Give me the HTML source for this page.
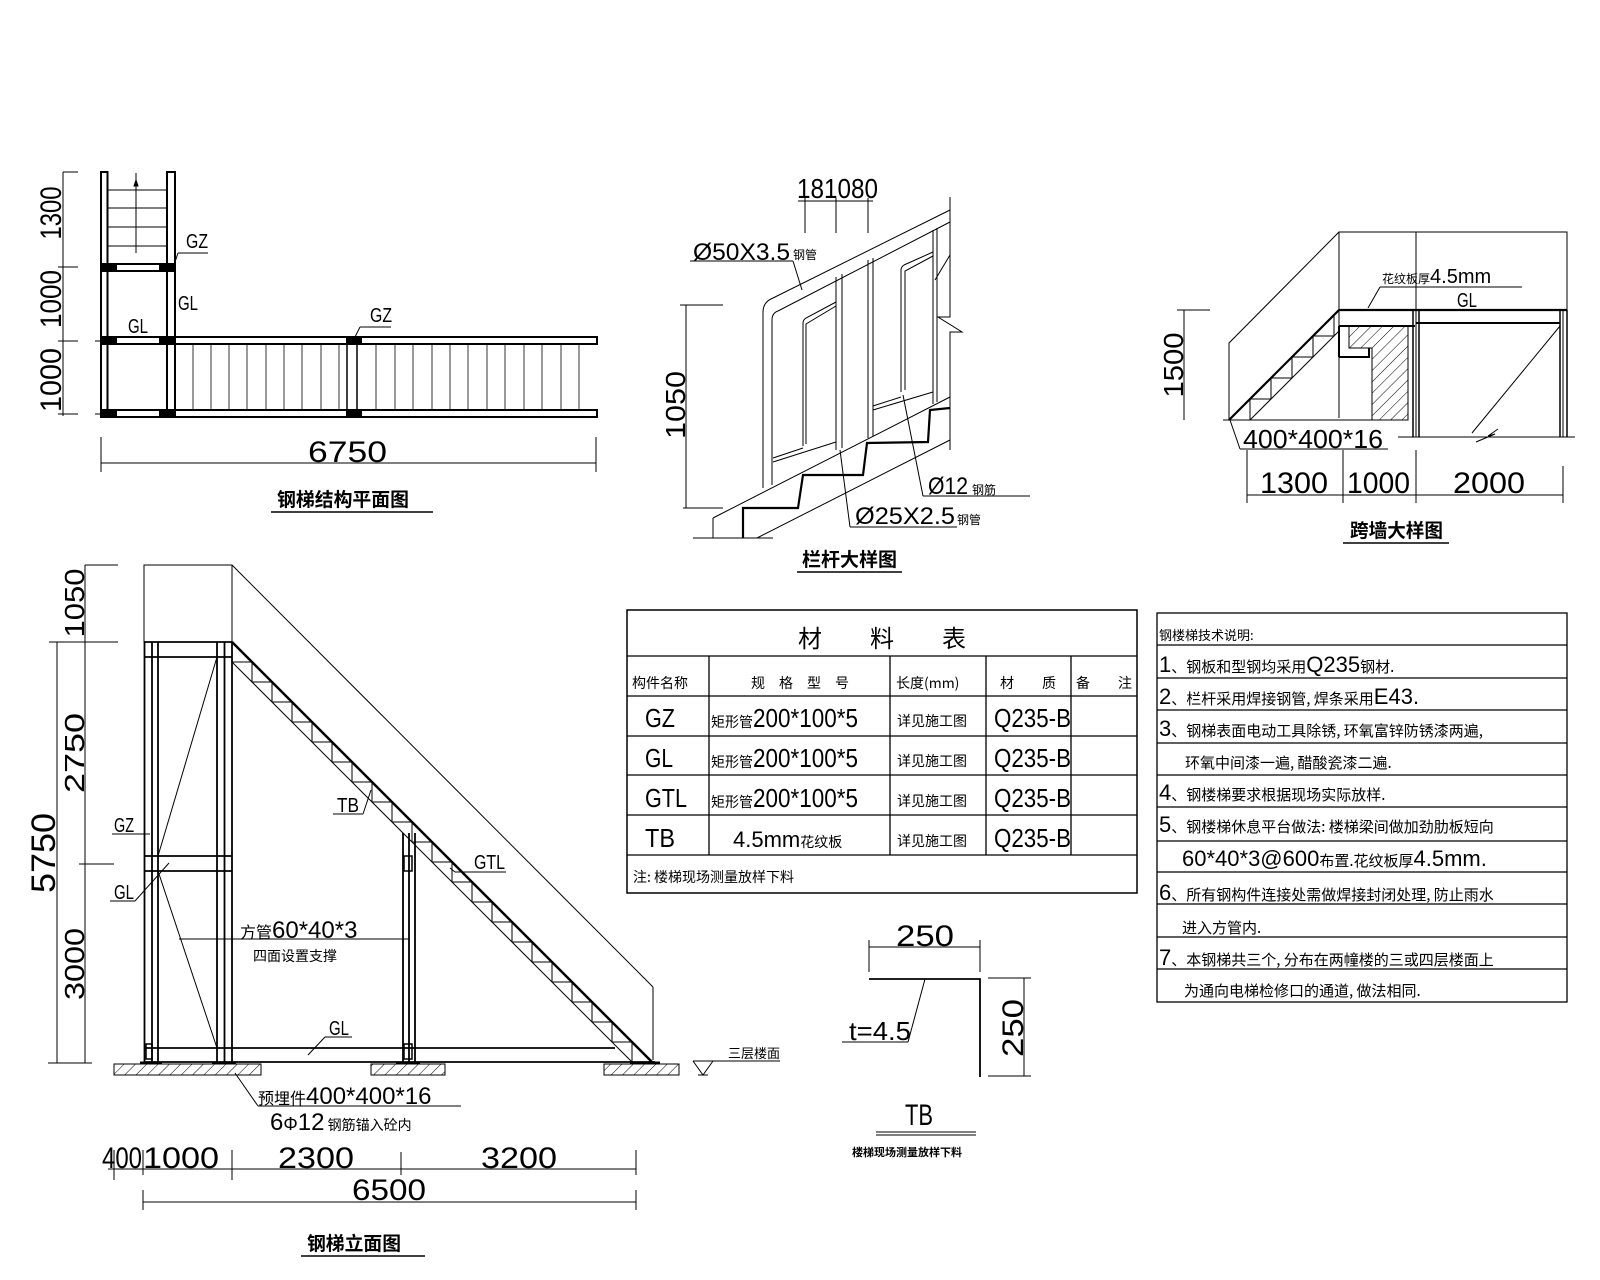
<!DOCTYPE html>
<html><head><meta charset="utf-8"><style>
html,body{margin:0;padding:0;background:#fff;}
svg{display:block;}
text{font-family:"Liberation Sans","Noto Sans CJK SC",sans-serif;fill:#000;}
.c{font-family:"Noto Sans CJK SC","WenQuanYi Zen Hei",sans-serif;}
</style></head><body>
<svg width="1600" height="1280" viewBox="0 0 1600 1280" xmlns="http://www.w3.org/2000/svg">
<defs>
<pattern id="h" width="8" height="8" patternUnits="userSpaceOnUse" patternTransform="rotate(45)"><line x1="0" y1="0" x2="0" y2="8" stroke="#000" stroke-width="1"/></pattern>
</defs>
<g stroke="#000" fill="none" stroke-width="1">

<!-- ============ PLAN ============ -->
<rect x="101" y="172" width="6.5" height="245" stroke-width="2"/>
<rect x="167" y="172" width="8" height="245" stroke-width="2"/>
<line x1="107" y1="190" x2="167" y2="190"/><line x1="107" y1="208" x2="167" y2="208"/>
<line x1="107" y1="227" x2="167" y2="227"/><line x1="107" y1="246" x2="167" y2="246"/>
<line x1="136" y1="173" x2="136" y2="253"/>
<path d="M134,186 L136,180 L138,186Z" fill="#000"/>
<rect x="101" y="264" width="74" height="7" stroke-width="2" fill="#fff"/>
<rect x="101" y="337" width="496" height="7" stroke-width="2" fill="#fff"/>
<rect x="101" y="410" width="496" height="7" stroke-width="2" fill="#fff"/>
<line x1="347" y1="344" x2="347" y2="410" stroke-width="1.5"/>
<line x1="357" y1="344" x2="357" y2="410" stroke-width="1.5"/>
<line x1="101" y1="344" x2="101" y2="410" stroke-width="2"/>
<g fill="#000" stroke="none">
<rect x="101" y="263" width="16" height="9"/><rect x="159" y="263" width="17" height="9"/>
<rect x="101" y="336" width="16" height="9"/><rect x="159" y="336" width="17" height="9"/>
<rect x="101" y="409" width="16" height="9"/><rect x="159" y="409" width="17" height="9"/>
<rect x="346" y="336" width="16" height="9"/><rect x="346" y="409" width="16" height="9"/>
</g>
<g stroke-width="0.8">
<line x1="193" y1="344" x2="193" y2="410"/><line x1="211" y1="344" x2="211" y2="410"/><line x1="229" y1="344" x2="229" y2="410"/><line x1="247" y1="344" x2="247" y2="410"/><line x1="266" y1="344" x2="266" y2="410"/><line x1="284" y1="344" x2="284" y2="410"/><line x1="302" y1="344" x2="302" y2="410"/><line x1="321" y1="344" x2="321" y2="410"/><line x1="339" y1="344" x2="339" y2="410"/>
<line x1="376" y1="344" x2="376" y2="410"/><line x1="395" y1="344" x2="395" y2="410"/><line x1="413" y1="344" x2="413" y2="410"/><line x1="432" y1="344" x2="432" y2="410"/><line x1="450" y1="344" x2="450" y2="410"/><line x1="468" y1="344" x2="468" y2="410"/><line x1="487" y1="344" x2="487" y2="410"/><line x1="505" y1="344" x2="505" y2="410"/><line x1="524" y1="344" x2="524" y2="410"/><line x1="542" y1="344" x2="542" y2="410"/><line x1="561" y1="344" x2="561" y2="410"/><line x1="579" y1="344" x2="579" y2="410"/>
</g>
<line x1="178" y1="253" x2="208" y2="253"/><line x1="178" y1="253" x2="175" y2="262"/>
<line x1="360" y1="327" x2="391" y2="327"/><line x1="360" y1="327" x2="355" y2="337"/>
<line x1="63" y1="172" x2="63" y2="416"/>
<line x1="63" y1="172" x2="78" y2="172"/><line x1="63" y1="267" x2="78" y2="267"/><line x1="63" y1="341" x2="78" y2="341"/><line x1="63" y1="414" x2="78" y2="414"/>
<line x1="58" y1="267" x2="68" y2="267"/><line x1="58" y1="341" x2="68" y2="341"/><line x1="58" y1="414" x2="68" y2="414"/>
<line x1="95" y1="341" x2="100" y2="341"/><line x1="95" y1="414" x2="100" y2="414"/>
<line x1="101" y1="463" x2="596" y2="463"/><line x1="101" y1="437" x2="101" y2="472"/><line x1="596" y1="437" x2="596" y2="472"/>
<line x1="271" y1="512" x2="433" y2="512" stroke-width="1.5"/>

<!-- ============ RAILING DETAIL ============ -->
<line x1="798" y1="201" x2="873" y2="201"/>
<line x1="805" y1="198" x2="805" y2="233"/><line x1="836" y1="198" x2="836" y2="233"/><line x1="868" y1="198" x2="868" y2="233"/>
<path d="M763,488 L763,312 Q763,302 773,298 L950,210"/>
<path d="M772,485 L772,320 Q772,313 778,311 L950,222"/>
<line x1="836" y1="277" x2="836" y2="450"/><line x1="842" y1="274" x2="842" y2="448"/>
<line x1="868" y1="260" x2="868" y2="438"/><line x1="873" y1="258" x2="873" y2="436"/>
<line x1="933" y1="230" x2="933" y2="404"/><line x1="937" y1="228" x2="937" y2="402"/>
<path d="M803,446 L803,323 Q803,320 806,318 L836,302"/><path d="M806,444 L806,324 L836,306"/>
<path d="M773,462 L836,442"/><path d="M773,458 L803,448"/>
<path d="M901,392 L901,270 Q901,267 904,265 L933,252"/><path d="M905,390 L905,271 L933,256"/>
<path d="M873,410 L933,392"/><path d="M873,406 L901,397"/>
<line x1="713" y1="518" x2="950" y2="397"/>
<line x1="757" y1="538" x2="950" y2="440"/>
<line x1="713" y1="518" x2="713" y2="538"/>
<line x1="693" y1="538" x2="773" y2="538"/>
<polyline points="743,538 743,508 798,508 803,475 863,475 867,443 928,442 930,410 950,408" stroke-width="2.2"/>
<polyline points="950,197 950,317 938,317 962,332 950,332 950,450"/>
<line x1="935" y1="280" x2="950" y2="255"/>
<line x1="686" y1="305" x2="686" y2="508"/><line x1="680" y1="305" x2="723" y2="305"/><line x1="683" y1="508" x2="723" y2="508"/>
<line x1="690" y1="261" x2="793" y2="261"/><line x1="793" y1="261" x2="802" y2="290"/>
<line x1="923" y1="496" x2="1030" y2="496"/><line x1="923" y1="496" x2="903" y2="395"/>
<line x1="850" y1="527" x2="957" y2="527"/><line x1="850" y1="527" x2="840" y2="450"/>
<line x1="797" y1="572" x2="902" y2="572" stroke-width="1.5"/>

<!-- ============ WALL DETAIL ============ -->
<rect x="1339" y="232" width="228" height="78"/>
<line x1="1416" y1="232" x2="1416" y2="437"/>
<polyline points="1339,232 1229,343 1229,420"/>
<line x1="1223" y1="420" x2="1408" y2="420"/>
<line x1="1229" y1="420" x2="1339" y2="310" stroke-width="2.2"/>
<line x1="1250" y1="420" x2="1339" y2="331"/>
<polyline points="1250,420 1250,399 1271,399 1271,378 1292,378 1292,357 1313,357 1313,336 1334,336 1334,315"/>
<line x1="1339" y1="310" x2="1567" y2="310" stroke-width="2.2"/>
<line x1="1416" y1="323" x2="1560" y2="323" stroke-width="2"/>
<line x1="1339" y1="310" x2="1339" y2="418"/>
<path d="M1349,326 L1408,326 L1408,420 L1372,420 L1372,348 L1349,348 Z" fill="url(#h)"/>
<path d="M1339,326 L1415,326 M1339,357 L1369,357 L1369,348" stroke-width="2"/>
<line x1="1339" y1="326" x2="1339" y2="357" stroke-width="2"/>
<line x1="1413" y1="310" x2="1413" y2="437" stroke-width="1.5"/><line x1="1419" y1="310" x2="1419" y2="437" stroke-width="1.5"/>
<line x1="1560" y1="310" x2="1560" y2="437" stroke-width="1.5"/><line x1="1563" y1="310" x2="1563" y2="437"/><line x1="1567" y1="310" x2="1567" y2="437" stroke-width="1.5"/>
<line x1="1560" y1="326" x2="1472" y2="433"/>
<polyline points="1476,442 1495,434 1488,436 1498,429"/>
<line x1="1398" y1="437" x2="1575" y2="437"/>
<line x1="1380" y1="287" x2="1522" y2="287"/><line x1="1380" y1="287" x2="1368" y2="308"/>
<line x1="1184" y1="310" x2="1184" y2="420"/><line x1="1177" y1="310" x2="1210" y2="310"/>
<line x1="1240" y1="449" x2="1388" y2="449"/><line x1="1240" y1="449" x2="1230" y2="420"/>
<line x1="1247" y1="495" x2="1563" y2="495"/>
<line x1="1247" y1="450" x2="1247" y2="503"/><line x1="1343" y1="450" x2="1343" y2="503"/><line x1="1416" y1="450" x2="1416" y2="503"/><line x1="1563" y1="466" x2="1563" y2="503"/>
<line x1="1343" y1="543" x2="1449" y2="543" stroke-width="1.5"/>

<!-- ============ ELEVATION ============ -->
<rect x="144" y="565" width="88" height="77"/>
<line x1="232" y1="565" x2="653" y2="987"/>
<line x1="653" y1="987" x2="653" y2="1060"/>
<g stroke-width="1.8">
<line x1="144.5" y1="642" x2="144.5" y2="1063"/><line x1="152" y1="642" x2="152" y2="1063"/><line x1="158" y1="642" x2="158" y2="1063"/>
<line x1="217" y1="642" x2="217" y2="1063"/><line x1="224.5" y1="642" x2="224.5" y2="1063"/><line x1="232" y1="642" x2="232" y2="1063"/>
<line x1="403" y1="833" x2="403" y2="1063"/><line x1="409" y1="833" x2="409" y2="1063"/><line x1="415" y1="833" x2="415" y2="1063"/>
<line x1="144" y1="642" x2="232" y2="642"/><line x1="144" y1="657" x2="232" y2="657"/>
<line x1="144" y1="856" x2="232" y2="856"/><line x1="144" y1="871" x2="232" y2="871"/>
<line x1="144" y1="1048" x2="615" y2="1048"/><line x1="144" y1="1062" x2="655" y2="1062"/>
</g>
<rect x="404" y="856" width="8" height="15" stroke-width="1.5"/>
<rect x="404" y="1044" width="8" height="15" stroke-width="1.5"/>
<rect x="146" y="1044" width="6" height="15" stroke-width="1.5"/>
<line x1="232" y1="642" x2="652" y2="1062" stroke-width="2.5"/>
<line x1="232" y1="662" x2="632" y2="1062"/>
<polyline points="232,662 252,662 252,682 272,682 272,702 292,702 292,722 312,722 312,742 332,742 332,762 352,762 352,782 372,782 372,802 392,802 392,822 412,822 412,842 432,842 432,862 452,862 452,882 472,882 472,902 492,902 492,922 512,922 512,942 532,942 532,962 552,962 552,982 572,982 572,1002 592,1002 592,1022 612,1022 612,1042 632,1042 632,1062"/>
<line x1="217" y1="657" x2="158" y2="856"/>
<line x1="158" y1="871" x2="217" y2="1048"/>
<line x1="179" y1="939" x2="409" y2="939"/>
<rect x="114" y="1064" width="147" height="11" fill="url(#h)"/>
<rect x="371" y="1064" width="74" height="11" fill="url(#h)"/>
<rect x="604" y="1064" width="75" height="11" fill="url(#h)"/>
<g stroke-width="3">
<line x1="140" y1="1063" x2="162" y2="1063"/><line x1="212" y1="1063" x2="236" y2="1063"/>
<line x1="396" y1="1063" x2="420" y2="1063"/><line x1="630" y1="1063" x2="660" y2="1063"/>
</g>
<line x1="112" y1="834" x2="150" y2="834"/>
<line x1="110" y1="901" x2="135" y2="901"/><line x1="135" y1="901" x2="169" y2="863"/>
<line x1="333" y1="814" x2="363" y2="814"/><line x1="363" y1="814" x2="371" y2="790"/>
<line x1="455" y1="872" x2="506" y2="872"/><line x1="455" y1="872" x2="450" y2="868"/>
<line x1="325" y1="1037" x2="352" y2="1037"/><line x1="325" y1="1037" x2="308" y2="1055"/>
<line x1="258" y1="1106" x2="461" y2="1106"/><line x1="258" y1="1106" x2="235" y2="1073"/>
<line x1="693" y1="1061" x2="780" y2="1061"/>
<polyline points="693,1061 703,1075 713,1061"/>
<line x1="698" y1="1075" x2="708" y2="1075"/>
<line x1="85" y1="565" x2="85" y2="1063"/>
<line x1="85" y1="565" x2="118" y2="565"/>
<line x1="49" y1="642" x2="118" y2="642"/>
<line x1="79" y1="864" x2="114" y2="864"/>
<line x1="57" y1="642" x2="57" y2="1063"/>
<line x1="48" y1="1063" x2="92" y2="1063"/>
<!-- bottom dims -->
<line x1="108" y1="1169" x2="636" y2="1169"/>
<line x1="114" y1="1150" x2="114" y2="1180"/><line x1="143" y1="1150" x2="143" y2="1175"/>
<line x1="232" y1="1150" x2="232" y2="1180"/><line x1="401" y1="1152" x2="401" y2="1175"/><line x1="636" y1="1150" x2="636" y2="1175"/>
<line x1="143" y1="1202" x2="636" y2="1202"/>
<line x1="143" y1="1190" x2="143" y2="1210"/><line x1="636" y1="1190" x2="636" y2="1210"/>
<line x1="301" y1="1256" x2="425" y2="1256" stroke-width="1.5"/>

<!-- ============ TABLE ============ -->
<rect x="627" y="610" width="510" height="283" stroke-width="1.5"/>
<g stroke-width="1.3">
<line x1="627" y1="656" x2="1137" y2="656"/><line x1="627" y1="696" x2="1137" y2="696"/>
<line x1="627" y1="736" x2="1137" y2="736"/><line x1="627" y1="775" x2="1137" y2="775"/>
<line x1="627" y1="815" x2="1137" y2="815"/><line x1="627" y1="855" x2="1137" y2="855"/>
<line x1="709" y1="656" x2="709" y2="855"/><line x1="890" y1="656" x2="890" y2="855"/>
<line x1="986" y1="656" x2="986" y2="855"/><line x1="1071" y1="656" x2="1071" y2="855"/>
</g>
<!-- ============ NOTES ============ -->
<rect x="1157" y="613" width="410" height="389" stroke-width="1.3"/>
<g stroke-width="1.3">
<line x1="1157" y1="645" x2="1567" y2="645"/><line x1="1157" y1="678" x2="1567" y2="678"/>
<line x1="1157" y1="710" x2="1567" y2="710"/><line x1="1157" y1="743" x2="1567" y2="743"/>
<line x1="1157" y1="775" x2="1567" y2="775"/><line x1="1157" y1="807" x2="1567" y2="807"/>
<line x1="1157" y1="841" x2="1567" y2="841"/><line x1="1157" y1="872" x2="1567" y2="872"/>
<line x1="1157" y1="904" x2="1567" y2="904"/><line x1="1157" y1="937" x2="1567" y2="937"/>
<line x1="1157" y1="969" x2="1567" y2="969"/>
</g>
<!-- ============ TB ============ -->
<line x1="869" y1="947" x2="980" y2="947"/>
<line x1="869" y1="940" x2="869" y2="972"/><line x1="980" y1="940" x2="980" y2="972"/>
<polyline points="869,979 980,979 980,1077" stroke-width="1.8"/>
<line x1="1024" y1="978" x2="1024" y2="1076"/>
<line x1="988" y1="978" x2="1031" y2="978"/><line x1="988" y1="1076" x2="1031" y2="1076"/>
<line x1="842" y1="1042" x2="908" y2="1042"/><line x1="908" y1="1042" x2="925" y2="979"/>
<line x1="876" y1="1132" x2="976" y2="1132"/><line x1="876" y1="1135" x2="976" y2="1135"/>
</g>

<!-- ============ TEXT ============ -->
<g font-size="20">
<text x="186" y="248" textLength="22" lengthAdjust="spacingAndGlyphs">GZ</text>
<text x="178" y="310" textLength="20" lengthAdjust="spacingAndGlyphs">GL</text>
<text x="128" y="333" textLength="20" lengthAdjust="spacingAndGlyphs">GL</text>
<text x="370" y="322" textLength="22" lengthAdjust="spacingAndGlyphs">GZ</text>
<g font-size="30">
<text transform="translate(61,213) rotate(-90)" text-anchor="middle" textLength="53" lengthAdjust="spacingAndGlyphs">1300</text>
<text transform="translate(61,299) rotate(-90)" text-anchor="middle" textLength="58" lengthAdjust="spacingAndGlyphs">1000</text>
<text transform="translate(61,380) rotate(-90)" text-anchor="middle" textLength="64" lengthAdjust="spacingAndGlyphs">1000</text>
<text x="308" y="462" textLength="79" lengthAdjust="spacingAndGlyphs">6750</text>
</g>
<text class="c" x="277" y="506" font-size="19" font-weight="bold" textLength="132" lengthAdjust="spacingAndGlyphs">钢梯结构平面图</text>

<text x="797" y="198" font-size="28" textLength="81" lengthAdjust="spacingAndGlyphs">181080</text>
<text x="693" y="260" font-size="24" textLength="97" lengthAdjust="spacingAndGlyphs">Ø50X3.5</text>
<text class="c" x="793" y="259" font-size="12">钢管</text>
<text transform="translate(685,405) rotate(-90)" text-anchor="middle" font-size="28" textLength="68" lengthAdjust="spacingAndGlyphs">1050</text>
<text x="928" y="494" font-size="24" textLength="40" lengthAdjust="spacingAndGlyphs">Ø12</text>
<text class="c" x="972" y="494" font-size="12">钢筋</text>
<text x="855" y="524" font-size="24" textLength="100" lengthAdjust="spacingAndGlyphs">Ø25X2.5</text>
<text class="c" x="957" y="524" font-size="12">钢管</text>
<text class="c" x="802" y="566" font-size="19" font-weight="bold" textLength="95" lengthAdjust="spacingAndGlyphs">栏杆大样图</text>

<text x="1382" y="283" font-size="20"><tspan class="c" font-size="12">花纹板厚</tspan><tspan>4.5mm</tspan></text>
<text x="1457" y="307" textLength="20" lengthAdjust="spacingAndGlyphs">GL</text>
<text transform="translate(1183,365) rotate(-90)" text-anchor="middle" font-size="28" textLength="65" lengthAdjust="spacingAndGlyphs">1500</text>
<text x="1243" y="448" font-size="26" textLength="140" lengthAdjust="spacingAndGlyphs">400*400*16</text>
<g font-size="30">
<text x="1260" y="493" textLength="68" lengthAdjust="spacingAndGlyphs">1300</text>
<text x="1347" y="493" textLength="63" lengthAdjust="spacingAndGlyphs">1000</text>
<text x="1453" y="493" textLength="72" lengthAdjust="spacingAndGlyphs">2000</text>
</g>
<text class="c" x="1350" y="537" font-size="19" font-weight="bold" textLength="93" lengthAdjust="spacingAndGlyphs">跨墙大样图</text>

<g font-size="28">
<text transform="translate(84,603) rotate(-90)" text-anchor="middle" textLength="69" lengthAdjust="spacingAndGlyphs">1050</text>
<text transform="translate(84,753) rotate(-90)" text-anchor="middle" textLength="80" lengthAdjust="spacingAndGlyphs">2750</text>
<text transform="translate(84,964) rotate(-90)" text-anchor="middle" textLength="72" lengthAdjust="spacingAndGlyphs">3000</text>
<text transform="translate(55,853) rotate(-90)" text-anchor="middle" font-size="34" textLength="80" lengthAdjust="spacingAndGlyphs">5750</text>
</g>
<text x="114" y="832" textLength="20" lengthAdjust="spacingAndGlyphs">GZ</text>
<text x="114" y="899" textLength="20" lengthAdjust="spacingAndGlyphs">GL</text>
<text x="337" y="812" textLength="22" lengthAdjust="spacingAndGlyphs">TB</text>
<text x="474" y="869" textLength="31" lengthAdjust="spacingAndGlyphs">GTL</text>
<text x="329" y="1035" textLength="20" lengthAdjust="spacingAndGlyphs">GL</text>
<text x="240" y="938" font-size="24"><tspan class="c" font-size="16">方管</tspan><tspan>60*40*3</tspan></text>
<text class="c" x="253" y="961" font-size="14">四面设置支撑</text>
<text x="258" y="1104" font-size="24"><tspan class="c" font-size="16">预埋件</tspan><tspan>400*400*16</tspan></text>
<text x="270" y="1130" font-size="24">6<tspan font-size="18">Φ</tspan>12<tspan class="c" font-size="14"> 钢筋锚入砼内</tspan></text>
<text class="c" x="728" y="1058" font-size="13">三层楼面</text>
<g font-size="30">
<text x="102" y="1168" textLength="40" lengthAdjust="spacingAndGlyphs">400</text>
<text x="143" y="1168" textLength="76" lengthAdjust="spacingAndGlyphs">1000</text>
<text x="278" y="1168" textLength="76" lengthAdjust="spacingAndGlyphs">2300</text>
<text x="481" y="1168" textLength="76" lengthAdjust="spacingAndGlyphs">3200</text>
<text x="352" y="1200" textLength="74" lengthAdjust="spacingAndGlyphs">6500</text>
</g>
<text class="c" x="307" y="1250" font-size="19" font-weight="bold" textLength="94" lengthAdjust="spacingAndGlyphs">钢梯立面图</text>

<text class="c" x="882" y="647" font-size="24" text-anchor="middle">材　　料　　表</text>
<g class="c" font-size="14">
<text class="c" x="632" y="688">构件名称</text>
<text class="c" x="800" y="688" text-anchor="middle">规　格　型　号</text>
<text class="c" x="896" y="688">长度(mm)</text>
<text class="c" x="1028" y="688" text-anchor="middle">材　　质</text>
<text class="c" x="1104" y="688" text-anchor="middle">备　　注</text>
</g>
<g font-size="26">
<text x="645" y="727" textLength="30" lengthAdjust="spacingAndGlyphs">GZ</text>
<text x="645" y="767" textLength="28" lengthAdjust="spacingAndGlyphs">GL</text>
<text x="645" y="807" textLength="42" lengthAdjust="spacingAndGlyphs">GTL</text>
<text x="645" y="847" textLength="30" lengthAdjust="spacingAndGlyphs">TB</text>
<text x="711" y="727"><tspan class="c" font-size="14">矩形管</tspan><tspan textLength="105" lengthAdjust="spacingAndGlyphs">200*100*5</tspan></text>
<text x="711" y="767"><tspan class="c" font-size="14">矩形管</tspan><tspan textLength="105" lengthAdjust="spacingAndGlyphs">200*100*5</tspan></text>
<text x="711" y="807"><tspan class="c" font-size="14">矩形管</tspan><tspan textLength="105" lengthAdjust="spacingAndGlyphs">200*100*5</tspan></text>
<text x="733" y="847" font-size="22">4.5mm<tspan class="c" font-size="14">花纹板</tspan></text>
<text x="994" y="727" textLength="77" lengthAdjust="spacingAndGlyphs">Q235-B</text>
<text x="994" y="767" textLength="77" lengthAdjust="spacingAndGlyphs">Q235-B</text>
<text x="994" y="807" textLength="77" lengthAdjust="spacingAndGlyphs">Q235-B</text>
<text x="994" y="847" textLength="77" lengthAdjust="spacingAndGlyphs">Q235-B</text>
</g>
<g class="c" font-size="14">
<text class="c" x="897" y="726">详见施工图</text>
<text class="c" x="897" y="766">详见施工图</text>
<text class="c" x="897" y="806">详见施工图</text>
<text class="c" x="897" y="846">详见施工图</text>
<text class="c" x="633" y="882">注: 楼梯现场测量放样下料</text>
</g>

<g font-size="22">
<text class="c" x="1159" y="640" font-size="13">钢楼梯技术说明:</text>
<text x="1159" y="672">1<tspan class="c" font-size="15">、钢板和型钢均采用</tspan>Q235<tspan class="c" font-size="15">钢材.</tspan></text>
<text x="1159" y="704">2<tspan class="c" font-size="15">、栏杆采用焊接钢管, 焊条采用</tspan>E43.</text>
<text x="1159" y="736">3<tspan class="c" font-size="15">、钢梯表面电动工具除锈, 环氧富锌防锈漆两遍,</tspan></text>
<text class="c" x="1185" y="768" font-size="15">环氧中间漆一遍, 醋酸瓷漆二遍.</text>
<text x="1159" y="800">4<tspan class="c" font-size="15">、钢楼梯要求根据现场实际放样.</tspan></text>
<text x="1159" y="832">5<tspan class="c" font-size="15">、钢楼梯休息平台做法: 楼梯梁间做加劲肋板短向</tspan></text>
<text x="1182" y="866">60*40*3@600<tspan class="c" font-size="15">布置.花纹板厚</tspan>4.5mm.</text>
<text x="1159" y="900">6<tspan class="c" font-size="15">、所有钢构件连接处需做焊接封闭处理, 防止雨水</tspan></text>
<text class="c" x="1182" y="933" font-size="15">进入方管内.</text>
<text x="1159" y="965">7<tspan class="c" font-size="15">、本钢梯共三个, 分布在两幢楼的三或四层楼面上</tspan></text>
<text class="c" x="1184" y="996" font-size="15">为通向电梯检修口的通道, 做法相同.</text>
</g>

<text x="896" y="946" font-size="30" textLength="58" lengthAdjust="spacingAndGlyphs">250</text>
<text transform="translate(1023,1028) rotate(-90)" text-anchor="middle" font-size="30" textLength="58" lengthAdjust="spacingAndGlyphs">250</text>
<text x="849" y="1040" font-size="26" textLength="62" lengthAdjust="spacingAndGlyphs">t=4.5</text>
<text x="905" y="1125" font-size="30" textLength="28" lengthAdjust="spacingAndGlyphs">TB</text>
<text class="c" x="852" y="1156" font-size="11" font-weight="bold">楼梯现场测量放样下料</text>
</g>
</svg>
</body></html>
